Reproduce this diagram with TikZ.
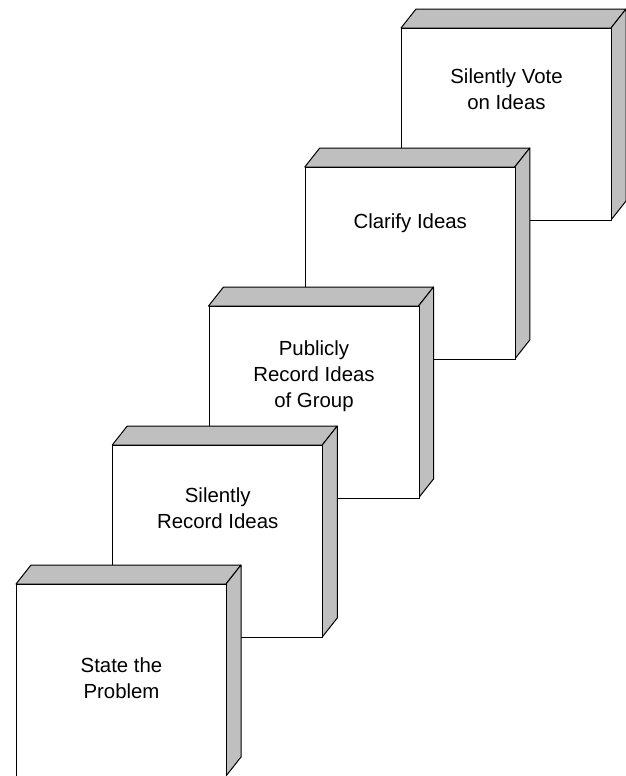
\documentclass[tikz,border=0pt]{standalone}
\usepackage{fontspec}
\setmainfont{Liberation Sans}
\usepackage{tikz}

\begin{document}
\begin{tikzpicture}[x=0.5pt, y=-0.5pt,
    face/.style={draw=black, fill=white, line width=0.5pt, inner sep=0pt,
                 minimum width=105pt, minimum height=96pt, anchor=north west},
    shade/.style={draw=black, fill=black!25, line width=0.5pt, line join=round},
    steptext/.style={font=\fontsize{10.2}{13}\selectfont, align=center}]

  % ---- geometry: front face 210 x 192, depth 15 / 19 ----
  \def\fw{210}
  \def\fh{192}
  \def\dx{15}
  \def\dy{19}

  \clip (0,0) rectangle (626,776);

  % ---- boxes, back to front: {index / name / text offset / text} ----
  \foreach \i/\nm/\ty/\lab in {
      4/vote/61/{Silently Vote\\on Ideas},
      3/clarify/56/{Clarify Ideas},
      2/publish/70/{Publicly\\Record Ideas\\of Group},
      1/record/63/{Silently\\Record Ideas},
      0/state/94/{State the\\Problem}} {
    \pgfmathsetmacro\xa{16+96.25*\i}
    \pgfmathsetmacro\ya{584-139*\i}
    \pgfmathsetmacro\xb{\xa+\fw}
    \pgfmathsetmacro\yb{\ya+\fh}
    % top and side faces
    \draw[shade] (\xa,\ya) -- (\xa+\dx,\ya-\dy) -- (\xb+\dx,\ya-\dy) -- (\xb,\ya) -- cycle;
    \draw[shade] (\xb,\ya) -- (\xb+\dx,\ya-\dy) -- (\xb+\dx,\yb-\dy) -- (\xb,\yb) -- cycle;
    % front face and its text
    \node[face] (\nm) at (\xa,\ya) {};
    \node[steptext] (\nm-text) at ([yshift={-\ty*0.5pt}]\nm.north) {\lab};
  }

\end{tikzpicture}
\end{document}
